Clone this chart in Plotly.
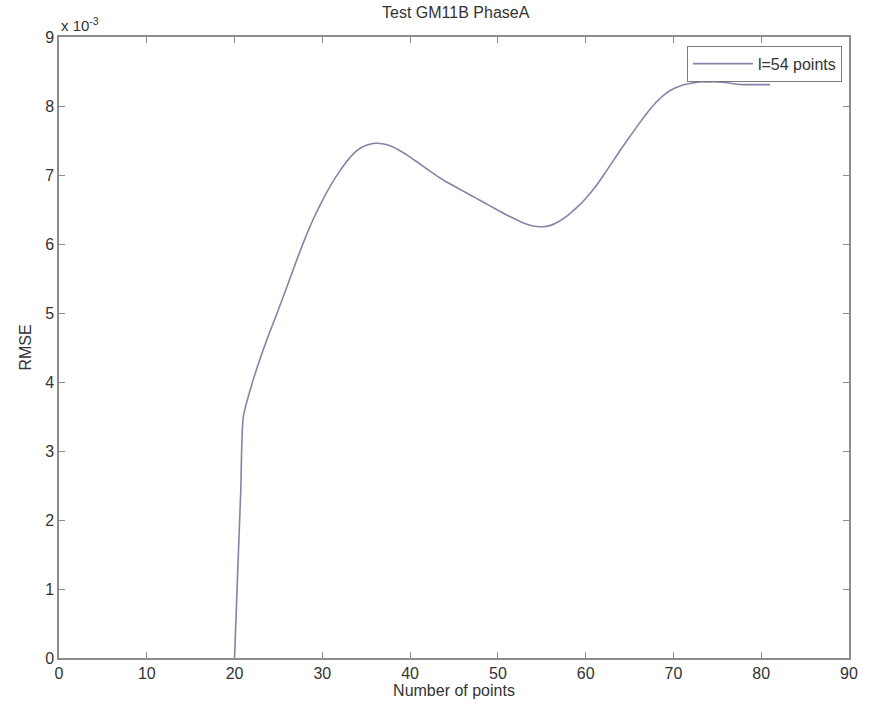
import plotly.graph_objects as go

# RMSE of the GM(1,1) forecast against the number of points used
n_points = [20, 20.4, 20.7, 21, 22, 23, 24, 25, 26, 27, 28, 29, 30, 31, 32, 33, 34, 35,
            36, 37, 38, 39, 40, 41, 42, 43, 44, 45, 46, 47, 48, 49, 50, 51, 52, 53,
            54, 55, 56, 57, 58, 59, 60, 61, 62, 63, 64, 65, 66, 67, 68, 69, 70, 71,
            72, 73, 74, 75, 76, 77, 78, 79, 80, 81]
rmse_e3 = [0.0, 1.4, 2.4, 3.5, 3.98, 4.37, 4.72, 5.05, 5.39, 5.74, 6.07, 6.37, 6.63, 6.86,
           7.06, 7.23, 7.36, 7.43, 7.46, 7.45, 7.41, 7.34, 7.26, 7.17, 7.08, 6.99, 6.91,
           6.84, 6.77, 6.70, 6.63, 6.56, 6.49, 6.42, 6.36, 6.30, 6.26, 6.25, 6.27, 6.33,
           6.42, 6.53, 6.66, 6.81, 6.99, 7.18, 7.37, 7.55, 7.73, 7.90, 8.05, 8.17, 8.25,
           8.30, 8.33, 8.35, 8.35, 8.35, 8.34, 8.32, 8.31, 8.31, 8.31, 8.31]
rmse = [v * 1e-3 for v in rmse_e3]

x_ticks = [0, 10, 20, 30, 40, 50, 60, 70, 80, 90]
y_ticks = [0, 1, 2, 3, 4, 5, 6, 7, 8, 9]

FONT = "Liberation Sans, Arial, sans-serif"
TEXT = "#333333"
AXIS = "#8c8c8c"

fig = go.Figure()
fig.add_trace(go.Scatter(
    x=n_points, y=rmse, mode="lines", name="l=54 points",
    line=dict(color="rgb(132,132,170)", width=1.6, shape="spline", smoothing=0.6),
))

axis_common = dict(
    showline=True, linecolor=AXIS, linewidth=1.5, mirror="ticks",
    ticks="inside", ticklen=6, tickcolor=AXIS, tickwidth=1.2,
    showgrid=False, zeroline=False,
    tickfont=dict(family=FONT, size=16, color=TEXT),
)

fig.update_layout(
    width=873, height=708,
    margin=dict(l=59, r=24, t=37, b=50),
    paper_bgcolor="white", plot_bgcolor="white",
    title=dict(text="Test GM11B PhaseA", x=0.522, xanchor="center", y=0.99,
               yanchor="top", font=dict(family=FONT, size=16, color=TEXT)),
    xaxis=dict(range=[0, 90], tickvals=x_ticks, ticktext=[str(t) for t in x_ticks],
               title=dict(text="Number of points", standoff=2,
                          font=dict(family=FONT, size=16, color=TEXT)),
               **axis_common),
    yaxis=dict(range=[0, 9e-3], tickvals=[t * 1e-3 for t in y_ticks],
               ticktext=[str(t) for t in y_ticks],
               title=dict(text="RMSE", standoff=10,
                          font=dict(family=FONT, size=16, color=TEXT)),
               **axis_common),
    showlegend=True,
    legend=dict(x=0.991, y=0.986, xanchor="right", yanchor="top",
                bgcolor="white", bordercolor="#7a7a7a", borderwidth=1,
                font=dict(family=FONT, size=16, color=TEXT),
                itemwidth=60),
)

# exponent label above the y axis
fig.add_annotation(
    xref="paper", yref="paper", x=0, y=1, xanchor="left", yanchor="bottom",
    text="x 10<sup>-3</sup>", showarrow=False, yshift=1,
    font=dict(family=FONT, size=15, color=TEXT),
)

fig.write_html("out.html")
